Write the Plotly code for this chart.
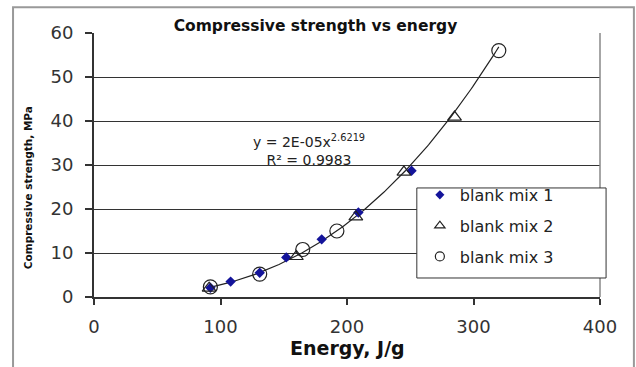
import numpy as np
import plotly.graph_objects as go

# Data
mix1_energy = [92, 108, 131, 152, 180, 209, 251]
mix1_strength = [2.1, 3.5, 5.5, 9.0, 13.1, 19.2, 28.7]
mix2_energy = [91, 160, 207, 245, 285]
mix2_strength = [2.0, 9.2, 18.2, 28.4, 40.9]
mix3_energy = [92, 131, 165, 192, 320]
mix3_strength = [2.3, 5.2, 10.8, 15.0, 56.0]

x_ticks = [0, 100, 200, 300, 400]
y_ticks = [0, 10, 20, 30, 40, 50, 60]

# Power trendline fitted to all points (log-log least squares, like Excel)
all_x = np.array(mix1_energy + mix2_energy + mix3_energy, dtype=float)
all_y = np.array(mix1_strength + mix2_strength + mix3_strength, dtype=float)
b, loga = np.polyfit(np.log(all_x), np.log(all_y), 1)
a = np.exp(loga)
fit_x = np.linspace(all_x.min(), all_x.max(), 200)
fit_y = a * fit_x ** b

FONT = "DejaVu Sans, sans-serif"
INK = "#222222"

fig = go.Figure()
fig.add_trace(go.Scatter(x=fit_x, y=fit_y, mode="lines",
                         line=dict(color=INK, width=1.2),
                         showlegend=False, hoverinfo="skip"))
fig.add_trace(go.Scatter(x=mix1_energy, y=mix1_strength, mode="markers",
                         name="blank mix 1", showlegend=False,
                         marker=dict(symbol="diamond", size=8, color="#14149a")))
fig.add_trace(go.Scatter(x=mix2_energy, y=mix2_strength, mode="markers",
                         name="blank mix 2", showlegend=False,
                         marker=dict(symbol="triangle-up-open", size=12,
                                     color=INK, line=dict(width=1.2))))
fig.add_trace(go.Scatter(x=mix3_energy, y=mix3_strength, mode="markers",
                         name="blank mix 3", showlegend=False,
                         marker=dict(symbol="circle-open", size=14,
                                     color=INK, line=dict(width=1.2))))
# legend entries (smaller symbols, as in the reference legend)
fig.add_trace(go.Scatter(x=[None], y=[None], mode="markers", name="blank mix 1",
                         legendgroup="g1",
                         marker=dict(symbol="diamond", size=7, color="#14149a")))
fig.add_trace(go.Scatter(x=[None], y=[None], mode="markers", name="blank mix 2",
                         legendgroup="g2",
                         marker=dict(symbol="triangle-up-open", size=9,
                                     color=INK, line=dict(width=1.2))))
fig.add_trace(go.Scatter(x=[None], y=[None], mode="markers", name="blank mix 3",
                         legendgroup="g3",
                         marker=dict(symbol="circle-open", size=9,
                                     color=INK, line=dict(width=1.2))))

fig.update_layout(
    width=636, height=367,
    margin=dict(l=94, r=36, t=33, b=70),
    paper_bgcolor="white", plot_bgcolor="white",
    font=dict(family=FONT, color=INK),
    title=dict(text="<b>Compressive strength vs energy</b>",
               font=dict(size=15.5, color="#111111"),
               x=0.496, xanchor="center", y=0.93, yanchor="middle"),
    showlegend=True,
    legend=dict(x=0.644, y=0.451, xanchor="left", yanchor="top",
                bgcolor="rgba(0,0,0,0)", borderwidth=0,
                font=dict(size=16, color=INK),
                tracegroupgap=7, itemwidth=30),
    xaxis=dict(range=[0, 400], tickvals=x_ticks, showgrid=False,
               zeroline=False, showline=True, linecolor="#333333", linewidth=2,
               ticks="outside", ticklen=6, tickcolor="#333333", tickwidth=1.5,
               ticklabelstandoff=6,
               tickfont=dict(size=18, color="#333333")),
    yaxis=dict(range=[0, 60], tickvals=y_ticks, showgrid=True,
               gridcolor="#333333", gridwidth=1,
               zeroline=False, showline=True, linecolor="#333333", linewidth=2,
               ticks="outside", ticklen=7, tickcolor="#333333", tickwidth=1.5,
               ticklabelstandoff=8,
               tickfont=dict(size=18, color="#333333")),
    shapes=[
        dict(type="line", xref="paper", yref="paper", x0=1, x1=1, y0=0, y1=1,
             line=dict(color="#888888", width=1.5)),
        dict(type="rect", xref="paper", yref="paper",
             x0=-0.160, x1=1.067, y0=-0.35, y1=1.098,
             line=dict(color="#999999", width=2)),
        dict(type="rect", xref="paper", yref="paper", layer="above",
             x0=0.638, x1=1.012, y0=0.072, y1=0.413,
             fillcolor="white", line=dict(color="#333333", width=1)),
    ],
    annotations=[
        dict(x=170, y=33.5, xref="x", yref="y", showarrow=False,
             text="y = 2E-05x<sup>2.6219</sup><br>R² = 0.9983",
             font=dict(size=14, color=INK), align="center"),
        dict(x=0.5, y=-0.192, xref="paper", yref="paper", showarrow=False,
             text="<b>Energy, J/g</b>", font=dict(size=19, color="#111111"),
             xanchor="center", yanchor="middle"),
        dict(x=-0.130, y=0.413, xref="paper", yref="paper", showarrow=False,
             text="<b>Compressive strength, MPa</b>", textangle=-90,
             font=dict(size=10.5, color="#111111"),
             xanchor="center", yanchor="middle"),
    ],
)

fig.write_html("out.html")
